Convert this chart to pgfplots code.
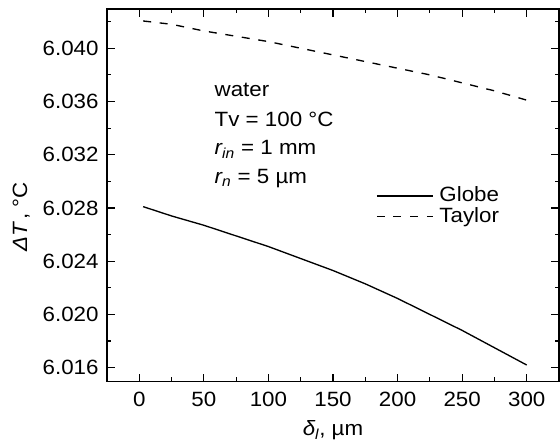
\documentclass[border=0pt]{standalone}
\usepackage{pgfplots}
\pgfplotsset{compat=1.18}
\usepackage{fontspec}
\setmainfont{Liberation Sans}[FakeStretch=1.08]
\newcommand{\fs}{\fontsize{15.5}{18.5}\selectfont}
\begin{document}
\fs
\begin{tikzpicture}[font=\fs]
\begin{axis}[
  width=339pt, height=279.5pt, scale only axis,
  xmin=-25, xmax=325, ymin=6.01495, ymax=6.04295,
  xtick={0,50,100,150,200,250,300},
  ytick={6.016,6.020,6.024,6.028,6.032,6.036,6.040},
  minor x tick num=1,
  minor ytick={6.018,6.022,6.026,6.030,6.034,6.038,6.042},
  tick align=inside, tick pos=both,
  xticklabel pos=left, yticklabel pos=left,
  major tick length=6pt, minor tick length=3.2pt,
  every tick/.style={black, line width=0.9pt},
  axis line style={line width=0.9pt},
  scaled y ticks=false,
  yticklabel style={xshift=-1pt, /pgf/number format/fixed, /pgf/number format/fixed zerofill, /pgf/number format/precision=3},
  /pgf/number format/assume math mode=true,
  ticklabel style={font=\fs},
  label style={font=\fs},
  xticklabel style={yshift=-2.5pt},
  xlabel={{\itshape δ}\textsubscript{\itshape l}, µm},
  ylabel={{\itshape ΔT}\,, °C},
  xlabel style={at={(axis description cs:0.5,-0.13)}, anchor=center},
  ylabel style={at={(axis description cs:-0.19,0.442)}, anchor=center},
  legend style={draw=none, fill=none, at={(axis cs:183.2,6.0297)}, anchor=north west, inner sep=0pt, row sep=0pt, column sep=3pt, font=\fs, nodes={inner sep=1pt}},
  legend cell align=left,
  legend image code/.code={\draw[#1] (0pt,0pt) -- (42.5pt,0pt);},
]
\addplot[black, line width=1pt] coordinates {
(3,6.0281) (25,6.0274) (50,6.0267) (75,6.0259) (100,6.0251) (125,6.0242)
(150,6.0233) (175,6.0223) (200,6.0212) (225,6.0200) (250,6.0188) (275,6.0175) (300,6.0162)};
\addlegendentry{Globe}
\addplot[black, line width=1pt, dash pattern=on 6pt off 6.5pt] coordinates {
(3,6.04205) (25,6.0418) (50,6.0413) (75,6.0409) (100,6.0405) (125,6.0400)
(150,6.0395) (175,6.0390) (200,6.0385) (225,6.0380) (250,6.0374) (275,6.0368) (300,6.0361)};
\addlegendentry{Taylor}
\node[anchor=base west, inner sep=0pt, font=\fs] at (axis cs:58.2,6.03638) {water};
\node[anchor=base west, inner sep=0pt, font=\fs] at (axis cs:58.2,6.0341) {Tv = 100 °C};
\node[anchor=base west, inner sep=0pt, font=\fs] at (axis cs:58.2,6.0320) {{\itshape r}\textsubscript{\itshape in} = 1 mm};
\node[anchor=base west, inner sep=0pt, font=\fs] at (axis cs:58.2,6.02982) {{\itshape r}\textsubscript{\itshape n} = 5 µm};
\coordinate (sw) at (rel axis cs:0,0);
\coordinate (ne) at (rel axis cs:1,1);
\end{axis}
\pgfresetboundingbox
\path[use as bounding box] ([xshift=-80.25pt,yshift=-46pt]sw) rectangle ([xshift=0.75pt,yshift=6.75pt]ne);
\end{tikzpicture}
\end{document}
